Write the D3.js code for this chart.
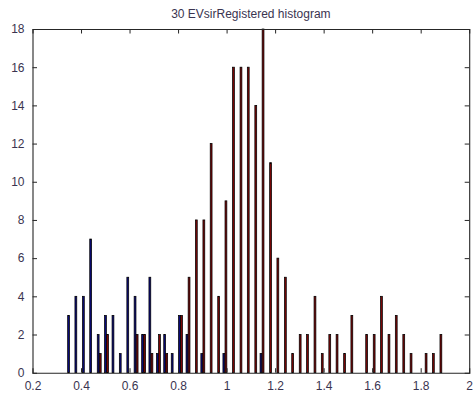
<!DOCTYPE html>
<html>
<head>
<meta charset="utf-8">
<script src="https://cdn.jsdelivr.net/npm/d3@7"></script>
<style>
  html, body { margin: 0; padding: 0; background: #fff; }
  svg { display: block; font-family: Arial, "Liberation Sans", sans-serif; }
</style>
</head>
<body>
<svg id="chart" width="476" height="398"></svg>
<script>
// ---- data ----
const title = "30 EVsirRegistered histogram";
const binCenters = [0.353, 0.383, 0.414, 0.444, 0.475, 0.505, 0.536, 0.566, 0.597, 0.627,
  0.658, 0.688, 0.719, 0.749, 0.780, 0.810, 0.841, 0.871, 0.902, 0.932,
  0.963, 0.993, 1.024, 1.055, 1.085, 1.116, 1.146, 1.177, 1.207, 1.238,
  1.268, 1.299, 1.329, 1.360, 1.390, 1.421, 1.451, 1.482, 1.512, 1.543,
  1.573, 1.604, 1.634, 1.665, 1.695, 1.726, 1.756, 1.787, 1.818, 1.848, 1.879];
const blueCounts = [3, 4, 4, 7, 2, 3, 3, 1, 5, 4,
  2, 5, 1, 2, 1, 3, 2, 0, 1, 0,
  0, 1, 0, 0, 0, 0, 1, 0, 0, 0,
  0, 0, 0, 0, 0, 0, 0, 0, 0, 0,
  0, 0, 0, 0, 0, 0, 0, 0, 0, 0, 0];
const redCounts = [0, 0, 0, 0, 1, 2, 0, 0, 0, 2,
  2, 1, 2, 1, 0, 3, 5, 8, 8, 12,
  4, 9, 16, 16, 16, 14, 18, 11, 6, 5,
  1, 2, 2, 4, 1, 2, 2, 1, 3, 0,
  2, 2, 4, 2, 3, 2, 1, 0, 1, 1, 2];
const xTicks = [0.2, 0.4, 0.6, 0.8, 1, 1.2, 1.4, 1.6, 1.8, 2];
const yTicks = [0, 2, 4, 6, 8, 10, 12, 14, 16, 18];
const seriesColors = ["#0a0a7a", "#7a0606"];

// ---- layout ----
const svg = d3.select("#chart");
const L = 32.5, R = 469.2, T = 29, B = 372.7;
const x = d3.scaleLinear().domain([0.2, 2]).range([L, R]);
const y = d3.scaleLinear().domain([0, 18]).range([B, T]);
const binW = binCenters[1] - binCenters[0];
const barW = 0.25 * binW;
const off = 0.143 * binW;

svg.append("rect").attr("x", 0).attr("y", 0).attr("width", 476).attr("height", 398).attr("fill", "#fff");

// bars
const seriesList = [blueCounts, redCounts];
seriesList.forEach((counts, si) => {
  const data = binCenters.map((c, i) => ({ c, v: counts[i] })).filter(d => d.v > 0);
  const dx = si === 0 ? -off : off;
  svg.append("g").selectAll("rect").data(data).join("rect")
    .attr("x", d => x(d.c + dx - barW / 2))
    .attr("y", d => y(d.v))
    .attr("width", d => x(d.c + dx + barW / 2) - x(d.c + dx - barW / 2))
    .attr("height", d => y(0) - y(d.v))
    .attr("fill", seriesColors[si])
    .attr("stroke", "#000")
    .attr("stroke-width", 0.75);
});

// axes (inward ticks on all sides, MATLAB style)
const tickLen = 4.5;
const axisColor = "#262626";
const textColor = "#3a3450";
const fmt = d => String(+d.toFixed(1));

const axB = svg.append("g").attr("transform", `translate(0,${B})`)
  .call(d3.axisBottom(x).tickValues(xTicks).tickSize(-tickLen).tickPadding(9).tickFormat(fmt));
const axT = svg.append("g").attr("transform", `translate(0,${T})`)
  .call(d3.axisTop(x).tickValues(xTicks).tickSize(-tickLen).tickFormat(""));
const axL = svg.append("g").attr("transform", `translate(${L},0)`)
  .call(d3.axisLeft(y).tickValues(yTicks).tickSize(-tickLen).tickPadding(8).tickFormat(d3.format("d")));
const axR = svg.append("g").attr("transform", `translate(${R},0)`)
  .call(d3.axisRight(y).tickValues(yTicks).tickSize(-tickLen).tickFormat(""));

[axB, axT, axL, axR].forEach(g => {
  g.select(".domain").attr("stroke", axisColor).attr("stroke-width", 1.1);
  g.selectAll(".tick line").attr("stroke", axisColor).attr("stroke-width", 1);
  g.selectAll(".tick text").attr("fill", textColor).attr("font-size", 12)
    .attr("font-family", "Arial, 'Liberation Sans', sans-serif");
});
axB.selectAll(".tick").filter(d => d === 0.2 || d === 2).select("line").remove();
axT.selectAll(".tick").filter(d => d === 0.2 || d === 2).select("line").remove();
axL.selectAll(".tick").filter(d => d === 0 || d === 18).select("line").remove();
axR.selectAll(".tick").filter(d => d === 0 || d === 18).select("line").remove();

// title
svg.append("text")
  .attr("x", (L + R) / 2).attr("y", 18)
  .attr("text-anchor", "middle")
  .attr("font-size", 12)
  .attr("fill", textColor)
  .text(title);
</script>
</body>
</html>
